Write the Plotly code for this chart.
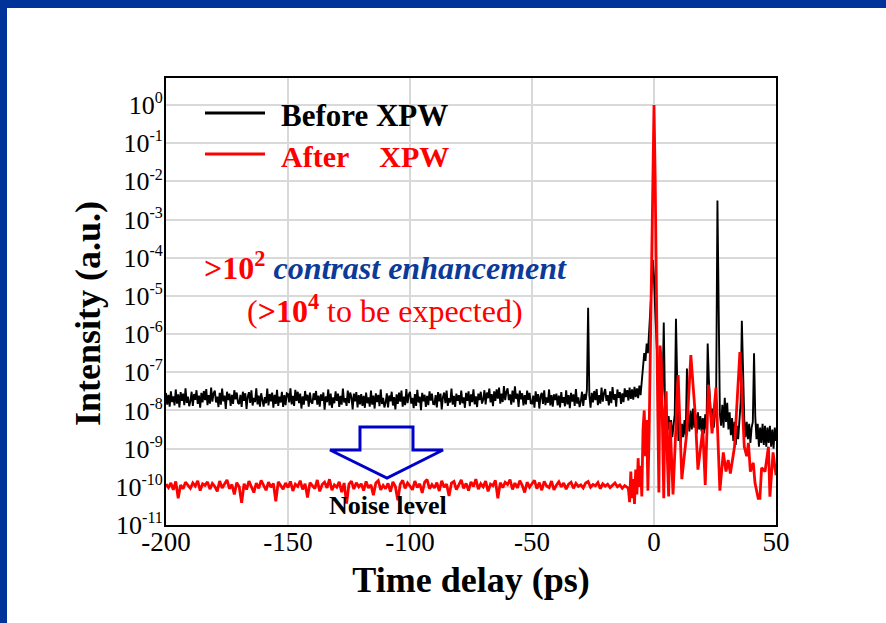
import plotly.graph_objects as go

# ---------------- data ----------------
# "Before XPW": log10(intensity), sampled every 0.5 ps from -200 ps to 50 ps
before_start = -200.0
before_step = 0.5
before_log = [
    -7.54,-7.85,-7.59,-7.90,-7.50,-7.78,-7.63,-7.87,-7.45,-7.82,-7.58,-7.92,-7.52,-7.75,-7.56,-7.86,-7.42,-7.80,-7.64,-7.89,
    -7.76,-7.51,-7.88,-7.57,-7.72,-7.47,-7.83,-7.61,-7.93,-7.54,-7.79,-7.49,-7.73,-7.44,-7.86,-7.60,-7.82,-7.40,-7.77,-7.55,
    -7.48,-7.79,-7.64,-7.91,-7.54,-7.85,-7.43,-7.76,-7.61,-7.96,-7.51,-7.73,-7.56,-7.88,-7.59,-7.83,-7.47,-7.71,-7.53,-7.80,
    -7.83,-7.59,-7.91,-7.51,-7.75,-7.55,-7.96,-7.64,-7.52,-7.80,-7.47,-7.87,-7.67,-7.78,-7.42,-7.84,-7.61,-7.90,-7.55,-7.74,
    -7.90,-7.65,-7.81,-7.43,-7.87,-7.57,-7.76,-7.53,-7.93,-7.59,-7.83,-7.46,-7.88,-7.64,-7.79,-7.51,-7.91,-7.60,-7.86,-7.55,
    -7.57,-7.79,-7.42,-7.84,-7.62,-7.88,-7.46,-7.75,-7.51,-7.81,-7.56,-7.95,-7.63,-7.85,-7.49,-7.74,-7.59,-7.90,-7.53,-7.78,
    -7.82,-7.55,-7.73,-7.49,-7.85,-7.61,-7.90,-7.58,-7.75,-7.53,-7.98,-7.63,-7.78,-7.45,-7.87,-7.56,-7.93,-7.66,-7.81,-7.50,
    -7.75,-7.56,-7.91,-7.62,-7.85,-7.43,-7.79,-7.68,-7.88,-7.48,-7.81,-7.53,-7.65,-7.97,-7.56,-7.76,-7.52,-7.92,-7.60,-7.84,
    -7.57,-7.88,-7.62,-7.93,-7.53,-7.81,-7.66,-7.90,-7.48,-7.85,-7.61,-7.95,-7.55,-7.78,-7.59,-7.89,-7.45,-7.83,-7.67,-7.92,
    -7.80,-7.55,-7.92,-7.61,-7.76,-7.51,-7.87,-7.65,-7.97,-7.58,-7.83,-7.53,-7.77,-7.48,-7.90,-7.64,-7.86,-7.44,-7.81,-7.59,
    -7.51,-7.82,-7.67,-7.94,-7.57,-7.88,-7.46,-7.79,-7.64,-7.99,-7.54,-7.76,-7.59,-7.91,-7.62,-7.86,-7.50,-7.74,-7.56,-7.83,
    -7.84,-7.60,-7.92,-7.52,-7.76,-7.56,-7.97,-7.65,-7.53,-7.81,-7.48,-7.88,-7.68,-7.79,-7.43,-7.85,-7.62,-7.91,-7.56,-7.75,
    -7.60,-7.85,-7.48,-7.81,-7.66,-7.93,-7.54,-7.75,-7.50,-7.89,-7.58,-7.78,-7.45,-7.84,-7.63,-7.91,-7.56,-7.73,-7.51,-7.82,
    -7.72,-7.47,-7.84,-7.53,-7.68,-7.43,-7.79,-7.57,-7.89,-7.50,-7.75,-7.45,-7.69,-7.40,-7.82,-7.56,-7.78,-7.36,-7.73,-7.51,
    -7.42,-7.73,-7.58,-7.85,-7.48,-7.79,-7.37,-7.70,-7.56,-7.91,-7.48,-7.71,-7.55,-7.87,-7.60,-7.84,-7.48,-7.72,-7.54,-7.81,
    -7.82,-7.61,-7.93,-7.50,-7.77,-7.57,-7.95,-7.63,-7.54,-7.83,-7.47,-7.86,-7.66,-7.80,-7.45,-7.87,-7.60,-7.90,-7.58,-7.73,
    -7.56,-7.87,-7.61,-7.92,-7.52,-7.80,-7.65,-7.89,-7.47,-7.84,-7.60,-7.94,-7.54,-7.77,-7.58,-7.88,-7.44,-7.82,-7.66,-7.91,
    -7.76,-7.51,-7.88,-7.57,-7.72,-7.47,-5.31,-7.61,-7.93,-7.54,-7.79,-7.49,-7.73,-7.44,-7.86,-7.60,-7.82,-7.40,-7.77,-7.55,
    -7.44,-7.75,-7.60,-7.87,-7.50,-7.81,-7.39,-7.72,-7.57,-7.90,-7.45,-7.67,-7.52,-7.83,-7.55,-7.78,-7.42,-7.65,-7.47,-7.74,
    -7.40,-7.70,-7.45,-7.72,-7.38,-7.65,-7.42,-7.68,-7.35,-7.60,
    -7.20,-6.90,-6.50,-6.70,-6.25,-6.50,-6.00,-5.60,-4.80,-4.06,
    -4.50,-5.40,-6.20,-7.00,-7.60,-7.30,-7.90,-7.50,-5.70,-7.80,
    -8.05,-8.50,-8.15,-8.60,-8.25,-8.70,-8.30,-8.10,-5.60,-7.60,
    -8.80,-8.40,-8.85,-8.35,-8.70,-8.25,-8.65,-6.90,-8.10,-8.55,
    -8.00,-8.50,-7.95,-8.45,-8.10,-8.60,-8.05,-8.50,-8.15,-8.55,
    -8.20,-8.60,-8.10,-8.50,-6.25,-7.20,-7.90,-8.40,-7.95,-8.45,
    -8.10,-7.40,-2.50,-6.50,-8.10,-8.40,-7.85,-8.45,-7.67,-8.30,
    -7.80,-8.50,-8.05,-8.65,-8.20,-8.80,-8.30,-8.90,-8.40,-8.75,
    -8.30,-7.80,-5.65,-7.50,-8.25,-8.70,-8.30,-8.75,-8.35,-8.85,
    -8.45,-8.30,-6.50,-8.15,-8.75,-8.35,-8.95,-8.45,-8.85,-8.35,
    -8.90,-8.40,-8.95,-8.45,-8.85,-8.40,-8.95,-8.50,-9.00,-8.45,-8.80,
]

# "After XPW" noise floor: log10(intensity), every 1 ps from -200 ps to -11 ps
after_base_start = -200.0
after_base_step = 1.0
after_base_log = [
    -9.93,-10.02,-9.90,-10.08,-9.86,-10.30,-9.95,-10.05,-9.88,-9.97,
    -10.04,-9.90,-9.98,-9.84,-10.10,-9.92,-9.96,-9.87,-10.06,-9.91,
    -9.99,-10.12,-9.85,-10.03,-9.93,-9.82,-10.05,-9.94,-10.20,-9.89,
    -10.00,-10.42,-9.92,-10.07,-9.85,-9.98,-10.15,-9.90,-10.04,-9.83,
    -9.96,-10.09,-9.88,-10.01,-9.91,-10.38,-9.87,-9.97,-10.06,-9.90,
    -10.02,-9.86,-10.11,-9.93,-9.99,-9.84,-10.07,-9.92,-10.28,-9.89,
    -9.97,-10.05,-9.82,-10.12,-9.94,-9.88,-10.03,-9.80,-10.09,-9.95,
    -10.01,-9.87,-10.14,-9.90,-10.44,-9.93,-9.85,-10.06,-9.89,-10.00,
    -9.92,-10.10,-9.86,-10.03,-9.95,-10.22,-9.90,-9.84,-10.08,-9.96,
    -10.05,-9.91,-10.13,-9.87,-9.99,-10.35,-9.93,-9.83,-10.04,-9.90,
    -9.98,-10.08,-9.85,-10.02,-9.92,-10.16,-9.88,-9.81,-10.05,-9.94,
    -10.03,-9.89,-10.11,-9.84,-10.01,-9.93,-10.24,-9.90,-9.86,-10.07,
    -9.95,-9.82,-10.04,-9.91,-10.10,-9.87,-9.99,-9.80,-10.06,-9.92,
    -10.00,-9.85,-10.12,-9.93,-9.97,-9.83,-10.30,-9.89,-10.02,-9.88,
    -9.94,-9.81,-10.07,-9.90,-10.03,-9.84,-9.96,-10.15,-9.88,-10.01,
    -9.92,-9.83,-10.05,-9.89,-10.09,-9.86,-9.98,-10.02,-9.85,-10.08,
    -9.96,-9.87,-10.00,-9.90,-10.06,-9.93,-9.88,-10.04,-9.91,-9.99,
    -9.95,-10.03,-9.90,-9.86,-10.01,-9.94,-9.97,-9.89,-10.05,-9.92,
    -9.98,-9.93,-10.02,-9.96,-9.90,-10.00,-9.95,-10.04,-9.97,-10.01,
]

# "After XPW" around the main pulse: time (ps) and log10(intensity)
after_pulse_time = [
    -10.5, -10.0, -9.5, -9.0, -8.5, -8.0, -7.5, -7.0, -6.5, -6.0, -5.5, -5.0,
    -4.5, -4.0, -3.5, -3.0, -2.5, -2.0, -1.5, -1.0, -0.5, 0.0, 0.5, 1.0, 1.5,
    2.0, 2.5, 3.0, 3.5, 4.0, 4.5, 5.0, 5.5, 6.0, 6.6, 7.8, 9.9, 11.4, 13.4,
    15.1, 16.9, 18.0, 20.0, 21.0, 22.3, 23.8, 25.4, 27.0, 28.4, 29.5, 30.4,
    31.3, 33.0, 35.2, 37.0, 38.0, 38.7, 39.5, 40.7, 41.4, 42.7, 43.4, 44.1,
    45.5, 46.9, 47.5, 48.8, 50.0,
]
after_pulse_log = [
    -10.05, -10.40, -9.60, -10.30, -9.80, -10.45, -9.55, -10.20, -9.25, -10.00, -9.45, -10.25,
    -8.50, -8.00, -9.20, -8.25, -10.10, -8.60, -6.50, -4.00, -1.50, 0.00, -2.00, -5.90, -7.80,
    -10.15, -6.30, -6.75, -8.80, -10.30, -8.00, -7.50, -9.30, -10.25, -8.30, -10.20, -7.07, -9.80, -8.60,
    -6.55, -8.10, -9.55, -8.50, -9.95, -7.33, -8.60, -7.40, -10.10, -9.10, -9.60, -9.30,
    -9.65, -8.95, -6.47, -8.95, -9.20, -8.85, -9.60, -9.37, -9.90, -10.30, -10.30, -9.50,
    -9.60, -8.95, -10.26, -9.10, -9.70,
]

x_tick_values = [-200, -150, -100, -50, 0, 50]
y_exponents = [-11, -10, -9, -8, -7, -6, -5, -4, -3, -2, -1, 0]

series_names = ["Before XPW", "After XPW"]
series_colors = ["#000000", "#ff0000"]

# ---------------- derived series ----------------
before_t = [before_start + before_step * i for i in range(len(before_log))]
before_y = [10 ** v for v in before_log]

after_t = [after_base_start + after_base_step * i for i in range(len(after_base_log))] + after_pulse_time
after_y = [10 ** v for v in after_base_log + after_pulse_log]

y_tick_vals = [10.0 ** e for e in y_exponents]
y_tick_text = [f"10<sup><span style='font-size:16px'>{e}</span></sup>" for e in y_exponents]

# ---------------- layout geometry ----------------
W, H = 886, 623
ML, MR, MT, MB = 166, 110, 78, 98
PW, PH = W - ML - MR, H - MT - MB


def px(x):  # page pixel -> paper x
    return (x - ML) / PW


def py(y):  # page pixel -> paper y
    return (H - MB - y) / PH


FONT = "Liberation Serif"
BLUE = "#003399"

fig = go.Figure()
fig.add_trace(go.Scatter(x=before_t, y=before_y, mode="lines", name=series_names[0],
                         line=dict(color=series_colors[0], width=1.9), showlegend=False))
fig.add_trace(go.Scatter(x=after_t, y=after_y, mode="lines", name=series_names[1],
                         line=dict(color=series_colors[1], width=2.8), showlegend=False))

shapes = [
    # slide frame
    dict(type="rect", xref="paper", yref="paper", x0=px(0), x1=px(W), y0=py(8), y1=py(0),
         fillcolor=BLUE, line=dict(width=0), layer="above"),
    dict(type="rect", xref="paper", yref="paper", x0=px(0), x1=px(7), y0=py(H), y1=py(0),
         fillcolor=BLUE, line=dict(width=0), layer="above"),
    # legend samples
    dict(type="line", xref="paper", yref="paper", x0=px(205), x1=px(265), y0=py(113), y1=py(113),
         line=dict(color=series_colors[0], width=3)),
    dict(type="line", xref="paper", yref="paper", x0=px(205), x1=px(265), y0=py(154), y1=py(154),
         line=dict(color=series_colors[1], width=3)),
]
arrow_pts = [(360, 427), (413, 427), (413, 450), (443, 450), (387, 478), (330, 450), (360, 450)]
path = "M " + " L ".join(f"{px(a):.4f},{py(b):.4f}" for a, b in arrow_pts) + " Z"
shapes.append(dict(type="path", xref="paper", yref="paper", path=path,
                   line=dict(color="#0000cc", width=3), fillcolor="rgba(0,0,0,0)"))

annotations = [
    dict(x=px(88), y=py(314), xref="paper", yref="paper", xanchor="center", yanchor="middle",
         textangle=-90, text="<b>Intensity (a.u.)</b>", showarrow=False,
         font=dict(family=FONT, size=36, color="#000000")),
    dict(x=px(279), y=py(116), xref="paper", yref="paper", xanchor="left", yanchor="middle",
         text="<b>Before XPW</b>", showarrow=False, font=dict(family=FONT, size=31, color="#000000")),
    dict(x=px(279), y=py(156), xref="paper", yref="paper", xanchor="left", yanchor="middle",
         text="<b>After\u00a0\u00a0\u00a0\u00a0XPW</b>", showarrow=False,
         font=dict(family=FONT, size=30, color="#ff0000")),
    dict(x=px(385), y=py(266), xref="paper", yref="paper", xanchor="center", yanchor="middle",
         text="<b>>10<sup>2</sup></b> <b><i><span style='color:#0b3a99'>contrast enhancement</span></i></b>",
         showarrow=False, font=dict(family=FONT, size=32, color="#ff0000")),
    dict(x=px(385), y=py(309), xref="paper", yref="paper", xanchor="center", yanchor="middle",
         text="(<b>>10<sup>4</sup></b> to be expected)",
         showarrow=False, font=dict(family=FONT, size=32, color="#ff0000")),
    dict(x=px(388), y=py(505), xref="paper", yref="paper", xanchor="center", yanchor="middle",
         text="<b>Noise level</b>", showarrow=False, font=dict(family=FONT, size=26, color="#000000")),
]

fig.update_layout(
    width=W, height=H,
    margin=dict(l=ML, r=MR, t=MT, b=MB),
    paper_bgcolor="white", plot_bgcolor="white",
    font=dict(family=FONT, color="#000000"),
    shapes=shapes, annotations=annotations,
    xaxis=dict(
        range=[-200, 50], tickvals=x_tick_values, ticktext=[str(v) for v in x_tick_values],
        showgrid=True, gridcolor="#d9d9d9", gridwidth=1.5, zeroline=False,
        showline=True, linecolor="#000000", linewidth=2, mirror=True, ticks="",
        ticklabelstandoff=-8,
        tickfont=dict(family=FONT, size=27, color="#000000"),
        title=dict(text="<b>Time delay (ps)</b>", font=dict(family=FONT, size=36, color="#000000"), standoff=10),
    ),
    yaxis=dict(
        type="log", range=[-11, 0.707], tickvals=y_tick_vals, ticktext=y_tick_text,
        showgrid=True, gridcolor="#d9d9d9", gridwidth=1.5, zeroline=False,
        showline=True, linecolor="#000000", linewidth=2, mirror=True, ticks="",
        ticklabelstandoff=-4,
        tickfont=dict(family=FONT, size=26, color="#000000"),
    ),
)

fig.write_html("out.html", config={"displayModeBar": False},
               post_script="document.body.style.margin='0';document.body.style.padding='0';")
